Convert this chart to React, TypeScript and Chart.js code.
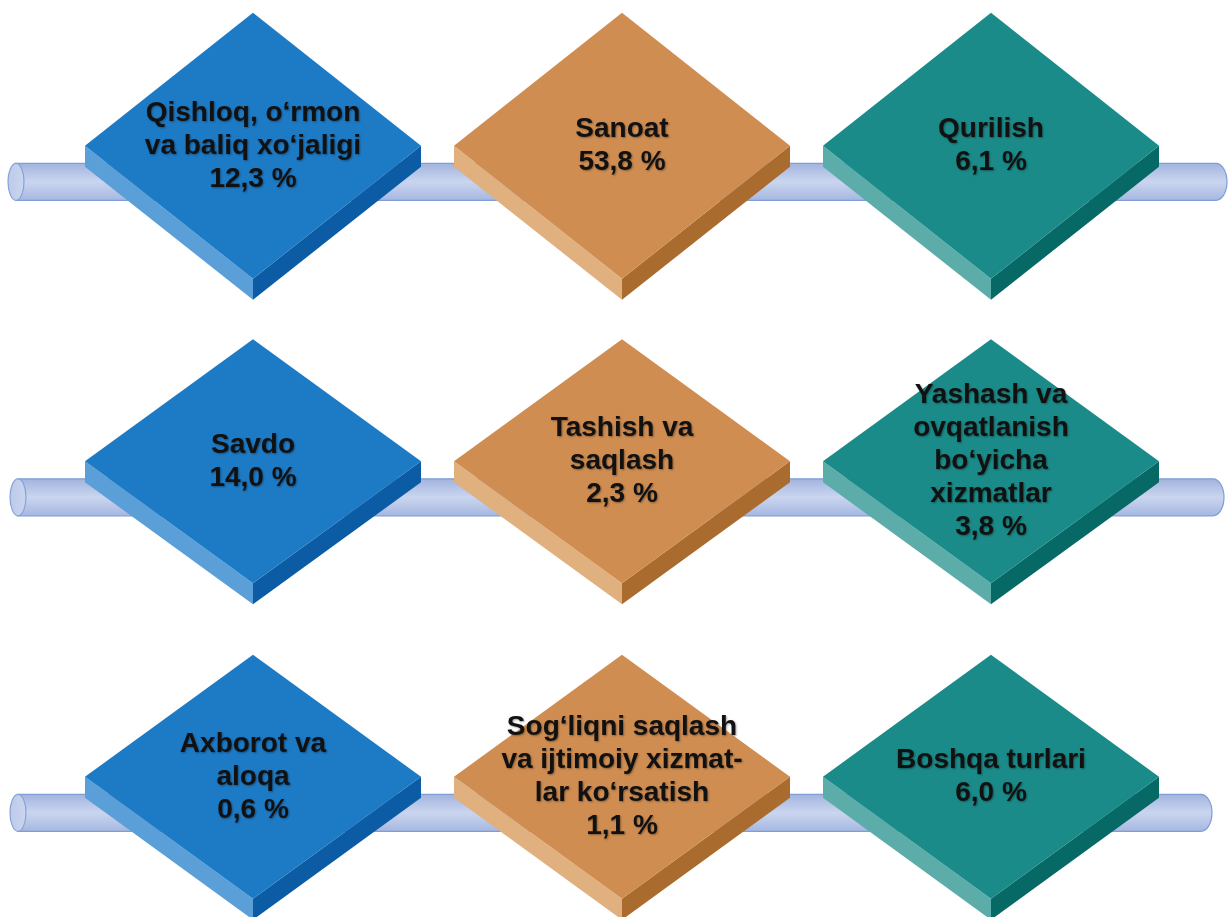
import React, { useEffect, useRef } from "react";
import { Chart, registerables } from "chart.js";

Chart.register(...registerables);

// ---- data ----
const sectorLabels: string[][] = [
  ["Qishloq, o‘rmon", "va baliq xo‘jaligi"],
  ["Sanoat"],
  ["Qurilish"],
  ["Savdo"],
  ["Tashish va", "saqlash"],
  ["Yashash va", "ovqatlanish", "bo‘yicha", "xizmatlar"],
  ["Axborot va", "aloqa"],
  ["Sog‘liqni saqlash", "va ijtimoiy xizmat-", "lar ko‘rsatish"],
  ["Boshqa turlari"],
];
const shareValues: number[] = [12.3, 53.8, 6.1, 14.0, 2.3, 3.8, 0.6, 1.1, 6.0];
const gridRow: number[] = [0, 0, 0, 1, 1, 1, 2, 2, 2];
const gridCol: number[] = [0, 1, 2, 0, 1, 2, 0, 1, 2];

// ---- styling / layout constants ----
const PALETTE = [
  { top: "#1d7ac5", left: "#5a9fd7", right: "#0b5ca4" },
  { top: "#d08d51", left: "#e0b07f", right: "#a96b2e" },
  { top: "#1a8b89", left: "#5cacaa", right: "#066966" },
];
const HALF_W = 168;
const HALF_H = [133, 122, 122];
const THICK = 21;
const PIPE_OFFSET = 36;
const PIPE_R = 18.5;
const PIPE_X0 = [16, 18, 18];
const PIPE_X1 = [1227, 1224, 1212];
const FONT = 'bold 28px "Liberation Sans", Arial, sans-serif';
const LINE_H = 33;

const fmt = (v: number) => v.toFixed(1).replace(".", ",") + " %";

function drawPipe(ctx: CanvasRenderingContext2D, x0: number, x1: number, cy: number, r: number) {
  const capR = 11;
  const g = ctx.createLinearGradient(0, cy - r, 0, cy + r);
  g.addColorStop(0, "#a2b4de");
  g.addColorStop(0.5, "#cad5ef");
  g.addColorStop(1, "#a6b8e1");
  ctx.beginPath();
  ctx.moveTo(x0, cy - r);
  ctx.lineTo(x1 - capR, cy - r);
  ctx.ellipse(x1 - capR, cy, capR, r, 0, -Math.PI / 2, Math.PI / 2);
  ctx.lineTo(x0, cy + r);
  ctx.closePath();
  ctx.fillStyle = g;
  ctx.fill();
  ctx.strokeStyle = "#7f9ed5";
  ctx.lineWidth = 1.2;
  ctx.stroke();
  // left open end
  const g2 = ctx.createLinearGradient(x0 - 8, 0, x0 + 8, 0);
  g2.addColorStop(0, "#bccae9");
  g2.addColorStop(1, "#cbd5ef");
  ctx.beginPath();
  ctx.ellipse(x0, cy, 8, r, 0, 0, Math.PI * 2);
  ctx.fillStyle = g2;
  ctx.fill();
  ctx.strokeStyle = "#86a3d8";
  ctx.stroke();
}

function drawDiamond(ctx: CanvasRenderingContext2D, cx: number, cy: number, w: number, h: number, t: number, c: { top: string; left: string; right: string }) {
  // left face
  ctx.beginPath();
  ctx.moveTo(cx - w, cy);
  ctx.lineTo(cx, cy + h);
  ctx.lineTo(cx, cy + h + t);
  ctx.lineTo(cx - w, cy + t);
  ctx.closePath();
  ctx.fillStyle = c.left;
  ctx.fill();
  // right face
  ctx.beginPath();
  ctx.moveTo(cx, cy + h);
  ctx.lineTo(cx + w, cy);
  ctx.lineTo(cx + w, cy + t);
  ctx.lineTo(cx, cy + h + t);
  ctx.closePath();
  ctx.fillStyle = c.right;
  ctx.fill();
  // top face
  ctx.beginPath();
  ctx.moveTo(cx, cy - h);
  ctx.lineTo(cx + w, cy);
  ctx.lineTo(cx, cy + h);
  ctx.lineTo(cx - w, cy);
  ctx.closePath();
  ctx.fillStyle = c.top;
  ctx.fill();
}

const infographicPlugin = {
  id: "diamondInfographic",
  afterDatasetsDraw(chart: any) {
    const ctx: CanvasRenderingContext2D = chart.ctx;
    const meta = chart.getDatasetMeta(0);
    const yScale = chart.scales.y;
    ctx.save();
    // pipes
    const rows = Array.from(new Set(gridRow));
    rows.forEach((r) => {
      const py = yScale.getPixelForValue(r) + PIPE_OFFSET;
      drawPipe(ctx, PIPE_X0[r], PIPE_X1[r], py, PIPE_R);
    });
    // diamonds + labels
    meta.data.forEach((pt: any, i: number) => {
      const cx = pt.x;
      const cy = pt.y;
      const r = gridRow[i];
      drawDiamond(ctx, cx, cy, HALF_W, HALF_H[r], THICK, PALETTE[gridCol[i]]);
      const lines = [...sectorLabels[i], fmt(shareValues[i])];
      ctx.save();
      ctx.font = FONT;
      ctx.textAlign = "center";
      ctx.textBaseline = "middle";
      ctx.fillStyle = "#111111";
      ctx.shadowColor = "rgba(0,0,0,0.35)";
      ctx.shadowBlur = 2;
      ctx.shadowOffsetX = 1;
      ctx.shadowOffsetY = 1;
      const start = cy - ((lines.length - 1) * LINE_H) / 2;
      lines.forEach((ln, k) => ctx.fillText(ln, cx, start + k * LINE_H));
      ctx.restore();
    });
    ctx.restore();
  },
};

export default function App() {
  const ref = useRef<HTMLCanvasElement | null>(null);
  useEffect(() => {
    document.body.style.margin = "0";
    if (!ref.current) return;
    const chart = new Chart(ref.current, {
      type: "scatter",
      data: {
        datasets: [
          {
            label: "Ulush, %",
            data: shareValues.map((v, i) => ({ x: gridCol[i], y: gridRow[i], v })),
            pointRadius: 0,
            pointHoverRadius: 0,
          },
        ],
      },
      options: {
        animation: false,
        responsive: false,
        maintainAspectRatio: false,
        layout: { padding: 0 },
        events: [],
        plugins: {
          legend: { display: false },
          tooltip: { enabled: false },
        },
        scales: {
          x: { type: "linear", display: false, min: -0.6856, max: 2.6423 },
          y: { type: "linear", display: false, reverse: true, min: -0.4621, max: 2.4444 },
        },
      },
      plugins: [infographicPlugin],
    });
    return () => chart.destroy();
  }, []);
  return (
    <div style={{ position: "absolute", left: 0, top: 0, width: 1228, height: 917, background: "#ffffff" }}>
      <canvas ref={ref} width={1228} height={917} style={{ width: 1228, height: 917, display: "block" }} />
    </div>
  );
}
